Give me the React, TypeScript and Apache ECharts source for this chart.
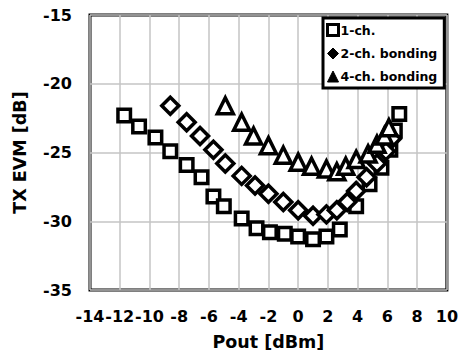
import React, { useEffect, useRef } from "react";
import * as echarts from "echarts";

// Output power (dBm) and TX EVM (dB) for each channel configuration
const pout1ch = [-11.7, -10.7, -9.6, -8.6, -7.5, -6.5, -5.7, -5.0, -3.8, -2.8, -1.9, -0.9, 0.0, 1.0, 1.9, 2.8, 3.9, 4.8, 5.6, 6.2, 6.5, 6.8];
const evm1ch = [-22.3, -23.1, -23.9, -24.9, -25.9, -26.8, -28.2, -28.9, -29.8, -30.5, -30.8, -30.9, -31.1, -31.3, -31.1, -30.6, -28.9, -27.3, -26.1, -24.8, -23.4, -22.2];

const pout2ch = [-8.6, -7.5, -6.6, -5.7, -4.9, -3.8, -2.9, -2.0, -1.0, 0.0, 1.0, 1.9, 2.6, 3.3, 3.9, 4.6, 5.3, 5.9, 6.3];
const evm2ch = [-21.6, -22.8, -23.8, -24.8, -25.8, -26.7, -27.4, -28.0, -28.6, -29.2, -29.6, -29.5, -29.2, -28.6, -27.8, -26.8, -25.8, -24.9, -24.0];

const pout4ch = [-4.9, -3.8, -3.0, -2.0, -1.0, 0.0, 0.9, 1.9, 2.6, 3.2, 3.9, 4.7, 5.3, 5.8, 6.1];
const evm4ch = [-21.6, -22.8, -23.8, -24.5, -25.2, -25.7, -26.0, -26.2, -26.4, -26.0, -25.5, -25.1, -24.4, -23.8, -23.2];

const seriesNames = ["1-ch.", "2-ch. bonding", "4-ch. bonding"];

const xMin = -14;
const xMax = 10;
const xStep = 2;
const yMin = -35;
const yMax = -15;
const yStep = 5;

const FONT = "'DejaVu Sans', 'Liberation Sans', Arial, sans-serif";

const zip = (xs: number[], ys: number[]) => xs.map((x, i) => [x, ys[i]]);

export default function App() {
  const ref = useRef<HTMLDivElement>(null);

  useEffect(() => {
    if (!ref.current) return;
    const chart = echarts.init(ref.current, undefined, { renderer: "svg" });

    const markerStyle = { color: "#fff", borderColor: "#000", borderWidth: 3.5, opacity: 1 };

    chart.setOption({
      animation: false,
      backgroundColor: "#fff",
      grid: {
        left: 90,
        right: 14,
        top: 15,
        bottom: 66,
        show: true,
        borderColor: "#000",
        borderWidth: 3,
        backgroundColor: "transparent",
      },
      xAxis: {
        type: "value",
        min: xMin,
        max: xMax,
        interval: xStep,
        name: "Pout [dBm]",
        nameLocation: "middle",
        nameGap: 43,
        nameTextStyle: { fontFamily: FONT, fontWeight: "bold", fontSize: 17.5, color: "#000" },
        axisLine: { show: false },
        axisTick: { show: false },
        axisLabel: { fontFamily: FONT, fontWeight: "bold", fontSize: 16, color: "#000", margin: 18 },
        splitLine: { show: true, lineStyle: { color: "#c4c4c4", width: 1.5 } },
      },
      yAxis: {
        type: "value",
        min: yMin,
        max: yMax,
        interval: yStep,
        name: "TX EVM [dB]",
        nameLocation: "middle",
        nameGap: 61,
        nameTextStyle: { fontFamily: FONT, fontWeight: "bold", fontSize: 17.5, color: "#000" },
        axisLine: { show: false },
        axisTick: { show: false },
        axisLabel: { fontFamily: FONT, fontWeight: "bold", fontSize: 16, color: "#000", margin: 18 },
        splitLine: { show: true, lineStyle: { color: "#c4c4c4", width: 1.5 } },
      },
      legend: {
        orient: "vertical",
        left: 323,
        top: 18,
        padding: [5, 7, 5, 3],
        itemGap: 10,
        itemWidth: 11,
        itemHeight: 11,
        borderColor: "#000",
        borderWidth: 3,
        borderRadius: 0,
        backgroundColor: "#fff",
        textStyle: { fontFamily: FONT, fontWeight: "bold", fontSize: 12.5, color: "#000", padding: [0, 0, 0, -3] },
        data: [
          { name: seriesNames[0], icon: "rect", itemStyle: { color: "#fff", borderColor: "#000", borderWidth: 3 } },
          { name: seriesNames[1], icon: "diamond", itemStyle: { color: "#000", borderColor: "#000", borderWidth: 1 } },
          { name: seriesNames[2], icon: "triangle", itemStyle: { color: "#000", borderColor: "#000", borderWidth: 1 } },
        ],
      },
      series: [
        {
          name: seriesNames[0],
          type: "scatter",
          symbol: "rect",
          symbolSize: 12.5,
          itemStyle: markerStyle,
          data: zip(pout1ch, evm1ch),
        },
        {
          name: seriesNames[1],
          type: "scatter",
          symbol: "diamond",
          symbolSize: 17,
          itemStyle: markerStyle,
          data: zip(pout2ch, evm2ch),
        },
        {
          name: seriesNames[2],
          type: "scatter",
          symbol: "triangle",
          symbolSize: 16,
          itemStyle: markerStyle,
          data: zip(pout4ch, evm4ch),
        },
      ],
    });

    return () => chart.dispose();
  }, []);

  return <div ref={ref} style={{ width: 461, height: 356, position: "absolute", left: 0, top: 0 }} />;
}
